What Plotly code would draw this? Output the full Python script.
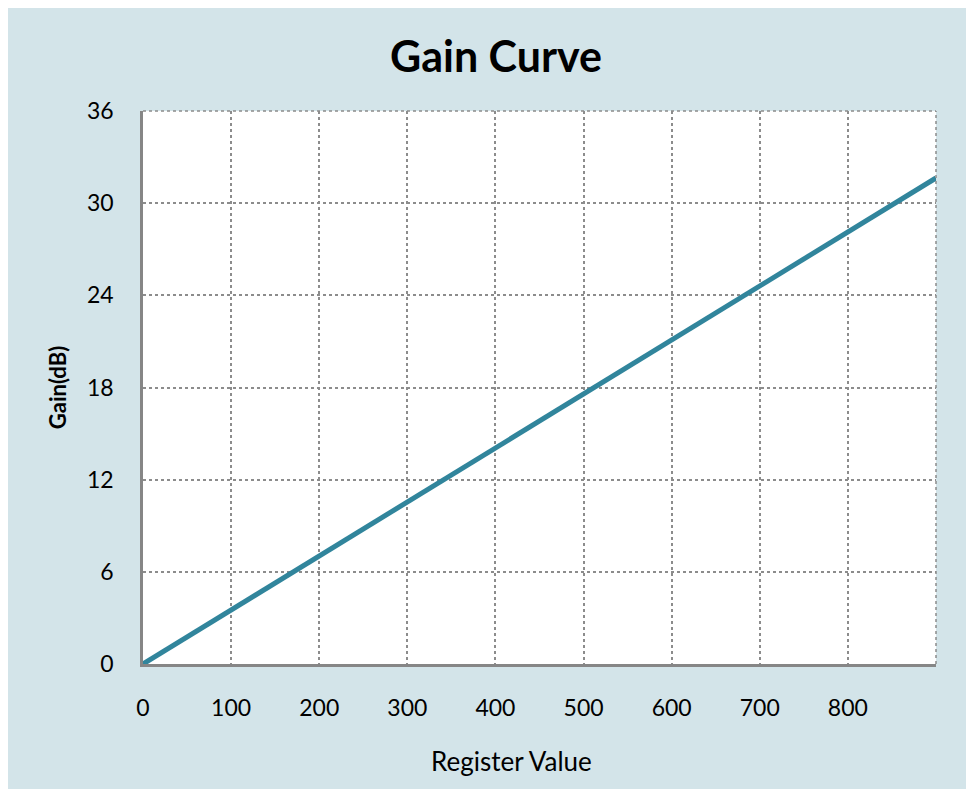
import plotly.graph_objects as go

register_value = [0, 100, 200, 300, 400, 500, 600, 700, 800, 900]
gain_db = [0, 3.52, 7.03, 10.55, 14.06, 17.58, 21.09, 24.61, 28.13, 31.64]

x_tickvals = [0, 100, 200, 300, 400, 500, 600, 700, 800, 900]
x_ticktext = ["0", "100", "200", "300", "400", "500", "600", "700", "800", ""]
y_tickvals = [0, 6, 12, 18, 24, 30, 36]

BG = "#D3E4E9"
LINE = "#31859C"
GRID = "#8C8C8C"
FONT = "Lato"

fig = go.Figure()
fig.add_trace(go.Scatter(x=register_value, y=gain_db, mode="lines",
                         line=dict(color=LINE, width=5), showlegend=False))

# page body has an 8px margin; compensate so the figure ends at the window edge
OFF = 8
W, H = 974 - OFF, 789 - OFF
L, R, T, B = 143 - OFF, 38, 111 - OFF, 125
pw, ph = W - L - R, H - T - B

fig.update_layout(
    width=W, height=H,
    margin=dict(l=L, r=R, t=T, b=B),
    paper_bgcolor=BG, plot_bgcolor="white",
    font=dict(family=FONT, color="#000000"),
    title=dict(text="<b>Gain Curve</b>", x=(496 - 143) / pw, xref="paper", xanchor="center",
               y=1 - (57 - OFF) / H, yanchor="middle", font=dict(size=43, family=FONT)),
    xaxis=dict(range=[0, 900], tickvals=x_tickvals, ticktext=x_ticktext,
               showgrid=True, gridcolor=GRID, griddash="dot", gridwidth=1.5,
               showline=True, linecolor="#868686", linewidth=2.5,
               ticks="outside", ticklen=22, tickcolor="rgba(0,0,0,0)",
               tickfont=dict(size=23), zeroline=False),
    yaxis=dict(range=[0, 36], tickvals=y_tickvals,
               showgrid=True, gridcolor=GRID, griddash="dot", gridwidth=1.5,
               showline=True, linecolor="#868686", linewidth=2.5,
               ticks="outside", ticklen=22, tickcolor="rgba(0,0,0,0)",
               tickfont=dict(size=23), zeroline=False,
               title=dict(text="<b>Gain(dB)</b>", font=dict(size=22), standoff=15)),
)
fig.add_annotation(text="Register Value", xref="paper", yref="paper",
                   x=(511 - 143) / pw, y=(664 - 761) / ph, xanchor="center", yanchor="middle",
                   showarrow=False, font=dict(size=26, family=FONT))
# dotted top and right borders
fig.add_shape(type="line", xref="paper", yref="paper", x0=0, x1=1, y0=1, y1=1,
              line=dict(color=GRID, width=1.5, dash="dot"))
fig.add_shape(type="line", xref="paper", yref="paper", x0=1, x1=1, y0=0, y1=1,
              line=dict(color=GRID, width=1.5, dash="dot"))

fig.write_html("out.html")
